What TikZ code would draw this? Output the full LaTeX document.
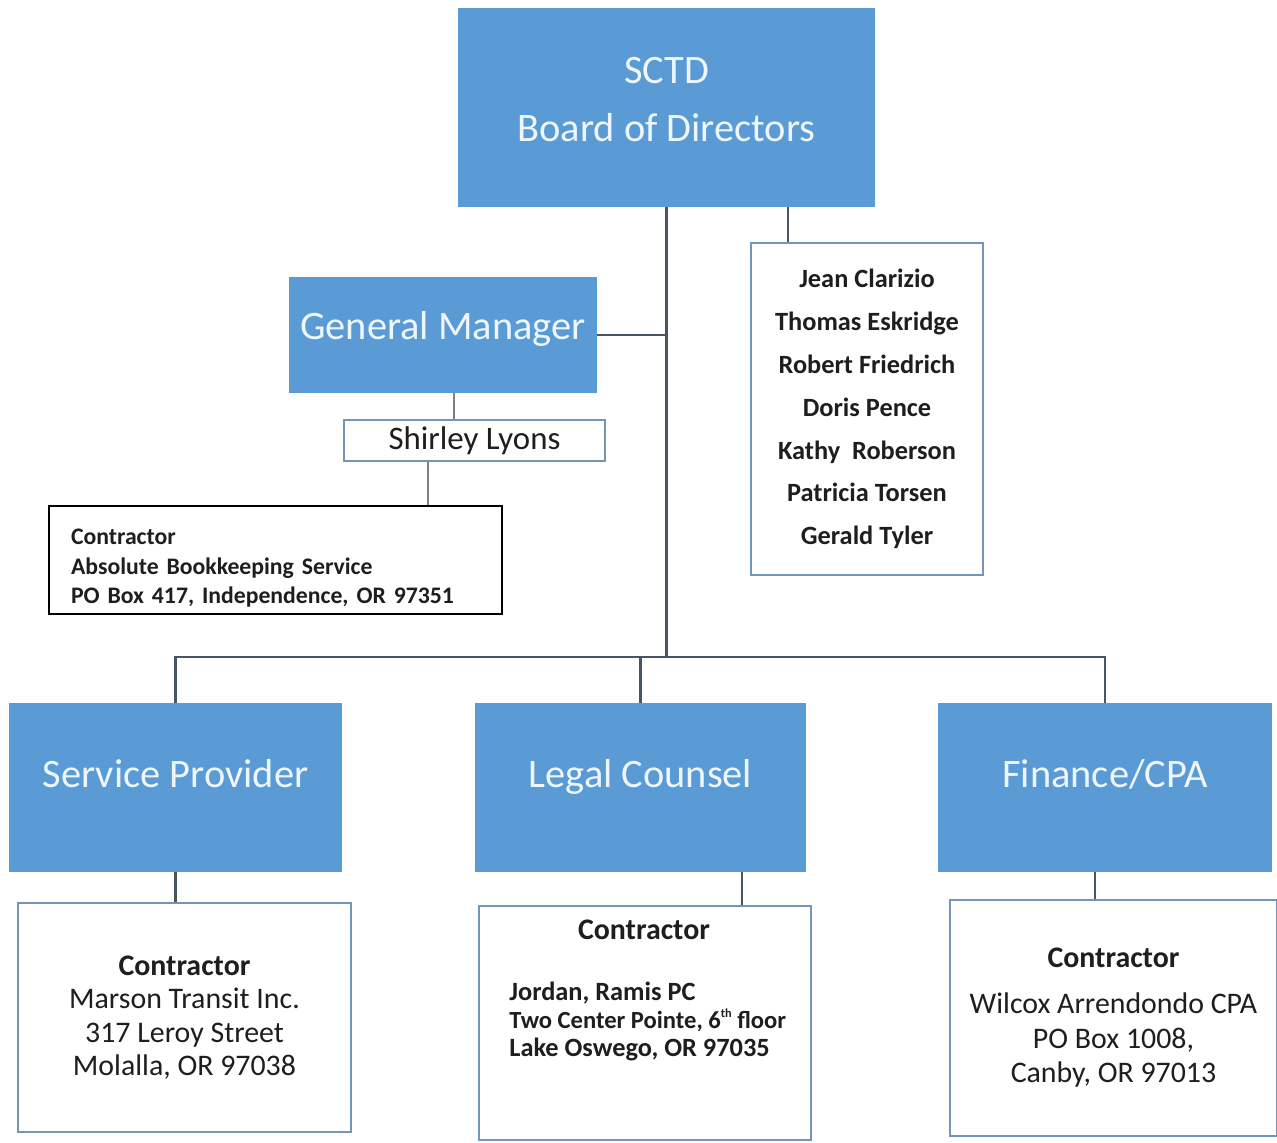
\documentclass[tikz,border=0pt]{standalone}
\usepackage{fontspec}
\setmainfont{Carlito}
\definecolor{boxblue}{HTML}{5B9BD5}
\definecolor{titlewhite}{HTML}{EEF6FC}
\definecolor{frameblue}{HTML}{7394BB}
\definecolor{linegray}{HTML}{4A5563}
\definecolor{textdark}{HTML}{1E1E1E}
\tikzset{
  bluebox/.style={rectangle, fill=boxblue, inner sep=0pt, text=titlewhite,
    font=\fontsize{23}{33.5}\selectfont, align=center,
    text height=0.6cm, text depth=0.6cm},
  namebox/.style={rectangle, draw=frameblue, line width=0.7pt, fill=white,
    inner sep=0pt, text=textdark, align=center},
  link/.style={draw=linegray, line width=1.3pt},
  thinlink/.style={draw=gray, line width=0.8pt}
}
\begin{document}
\begin{tikzpicture}[x=0.02cm, y=-0.02cm]
  \useasboundingbox (0,0) rectangle (1277,1142);

  % board and its members
  \node[bluebox, minimum width=8.34cm, minimum height=3.98cm,
        text height=1.78cm, text depth=0.4cm] (board) at (666.5,107.5)
        {SCTD\\Board of Directors};
  \node[namebox, minimum width=4.64cm, minimum height=6.64cm,
        font=\bfseries\fontsize{15}{24.4}\selectfont] (members) at (867,409)
        {Jean Clarizio\\Thomas Eskridge\\Robert Friedrich\\Doris Pence\\
         Kathy~ Roberson\\Patricia Torsen\\Gerald Tyler};

  % general manager branch
  \node[bluebox, minimum width=6.16cm, minimum height=2.32cm,
        text depth=0.44cm] (gm) at (443,335)
        {General Manager};
  \node[namebox, minimum width=5.22cm, minimum height=0.82cm,
        font=\fontsize{18.7}{22}\selectfont] (shirley) at (474.5,440.5)
        {Shirley Lyons};
  \node[rectangle, draw=black, line width=1.3pt, fill=white, align=left,
        text width=8.18cm, inner xsep=0.44cm, inner ysep=0pt,
        minimum height=2.16cm, text height=0.64cm, text=textdark,
        font=\bfseries\fontsize{13.5}{16.6}\selectfont] (contr) at (275.5,560)
        {Contractor\\Absolute Bookkeeping Service\\PO Box 417, Independence, OR 97351};

  % second row
  \node[bluebox, minimum width=6.66cm, minimum height=3.38cm] (sp) at (175.5,787.5)
        {Service Provider};
  \node[bluebox, minimum width=6.62cm, minimum height=3.38cm] (lc) at (640.5,787.5)
        {Legal Counsel};
  \node[bluebox, minimum width=6.68cm, minimum height=3.38cm] (fc) at (1105,787.5)
        {Finance/CPA};

  % contractors
  \node[namebox, minimum width=6.66cm, minimum height=4.58cm,
        font=\fontsize{17}{19}\selectfont] (spc) at (184.5,1017.5)
        {\textbf{Contractor}\\Marson Transit Inc.\\317 Leroy Street\\Molalla, OR 97038};
  \node[namebox, minimum width=6.64cm, minimum height=4.68cm] (lcc) at (645,1023) {};
  \node[text=textdark, font=\bfseries\fontsize{17}{19}\selectfont, anchor=base]
        (lcchead) at (644,939) {Contractor};
  \node[text=textdark, font=\bfseries\fontsize{15}{15.9}\selectfont, align=left,
        anchor=base west, inner sep=0pt] (lccaddr) at (509,1056)
        {Jordan, Ramis PC\\
         {\fontsize{14}{15.9}\selectfont Two Center Pointe, 6\raisebox{0.9ex}{\fontsize{7}{7}\selectfont th} floor}\\
         Lake Oswego, OR 97035};
  \node[namebox, minimum width=6.54cm, minimum height=4.72cm,
        font=\fontsize{17}{19.8}\selectfont] (fcc) at (1113.5,1018)
        {\textbf{Contractor}\\[6pt]Wilcox Arrendondo CPA\\PO Box 1008,\\Canby, OR 97013};

  % connectors
  \coordinate (bus) at (665,657);
  \draw[link] (board.south) -- (board.south |- bus);
  \draw[link] ([xshift=2.43cm]board.south) -- ([xshift=2.43cm]board.south |- members.north);
  \draw[link] (gm.east) -- (gm.east -| board.south);
  \draw[thinlink] ([xshift=0.22cm]gm.south) -- ([xshift=0.22cm]gm.south |- shirley.north);
  \draw[thinlink] ([xshift=-0.93cm]shirley.south) -- ([xshift=-0.93cm]shirley.south |- contr.north);
  \draw[link] (sp.north) -- (sp.north |- bus) -- (fc.north |- bus) -- (fc.north);
  \draw[link] (lc.north) -- (lc.north |- bus);
  \draw[link] (sp.south) -- (sp.south |- spc.north);
  \draw[link] ([xshift=2.03cm]lc.south) -- ([xshift=2.03cm]lc.south |- lcc.north);
  \draw[link] ([xshift=-0.2cm]fc.south) -- ([xshift=-0.2cm]fc.south |- fcc.north);
\end{tikzpicture}
\end{document}
